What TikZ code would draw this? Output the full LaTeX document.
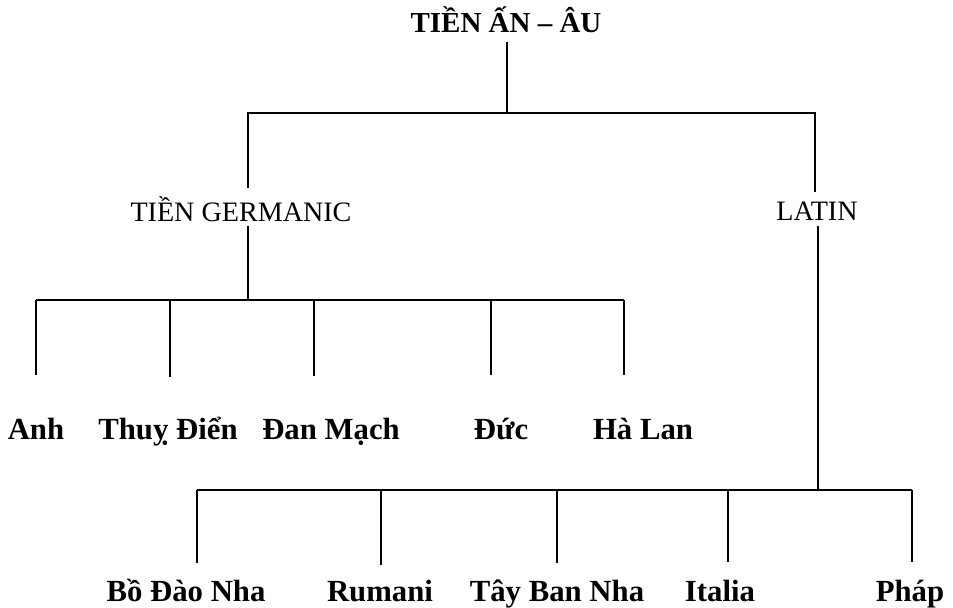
\documentclass[tikz,border=0pt]{standalone}
\usepackage{fontspec}
\setmainfont{Liberation Serif}

\begin{document}
\begin{tikzpicture}[
    x=0.02cm, y=-0.02cm,
    root/.style={font=\fontsize{16.5}{20}\selectfont\bfseries, anchor=base, inner sep=0pt},
    branch/.style={font=\fontsize{16}{19}\selectfont, anchor=base, inner sep=0pt},
    lang/.style={font=\fontsize{17.5}{20}\selectfont\bfseries, anchor=base, inner sep=0pt},
    link/.style={line width=1.3pt, draw=black},
    bar/.style={line width=1.6pt, draw=black}
]
\useasboundingbox (0,0) rectangle (953,608);

% =====================================================================
% ROOT AND BRANCHES
% =====================================================================
\node[root] (ROOT) at (506,33) {TIỀN ẤN – ÂU};
\node[branch] (GERM) at (241,221) {TIỀN GERMANIC};
\node[branch] (LAT) at (817,220) {LATIN};

% joints of the tree
\coordinate (j1) at (507,113);
\coordinate (germTop) at (248,188);
\coordinate (latTop) at (815,192);
\coordinate (j2) at (248,300);
\coordinate (j3) at (818,490);

% =====================================================================
% GERMANIC LANGUAGES
% =====================================================================
\node[lang] (anh) at (36,439) {Anh};
\node[lang] (thuy) at (168,439) {Thuỵ Điển};
\node[lang] (danm) at (331,439) {Đan Mạch};
\node[lang] (duc) at (501,439) {Đức};
\node[lang] (hal) at (643,439) {Hà Lan};

\coordinate (anhTip) at (36,375);
\coordinate (thuyTip) at (170,377);
\coordinate (danmTip) at (314,376);
\coordinate (ducTip) at (491,375);
\coordinate (halTip) at (624,375);

% =====================================================================
% ROMANCE LANGUAGES
% =====================================================================
\node[lang] (bdn) at (186,601) {Bồ Đào Nha};
\node[lang] (rum) at (380,601) {Rumani};
\node[lang] (tbn) at (557,601) {Tây Ban Nha};
\node[lang] (ita) at (720,601) {Italia};
\node[lang] (phap) at (910,601) {Pháp};

\coordinate (bdnTip) at (197,563);
\coordinate (rumTip) at (381,565);
\coordinate (tbnTip) at (557,563);
\coordinate (itaTip) at (728,562);
\coordinate (phapTip) at (912,562);

% =====================================================================
% EDGES
% =====================================================================
\draw[link, shorten <=5pt] (ROOT.south -| j1) -- (j1);
\draw[bar] (germTop) |- (j1) -| (latTop);

\draw[link, shorten <=2.5pt] (GERM.south -| j2) -- (j2);
\draw[bar] (anhTip |- j2) -- (halTip |- j2);
\foreach \t in {anhTip, thuyTip, danmTip, ducTip, halTip}
    \draw[link] (\t |- j2) -- (\t);

\draw[link, shorten <=3pt] (LAT.south -| j3) -- (j3);
\draw[bar] (bdnTip |- j3) -- (phapTip |- j3);
\foreach \t in {bdnTip, rumTip, tbnTip, itaTip, phapTip}
    \draw[link] (\t |- j3) -- (\t);

\end{tikzpicture}
\end{document}
